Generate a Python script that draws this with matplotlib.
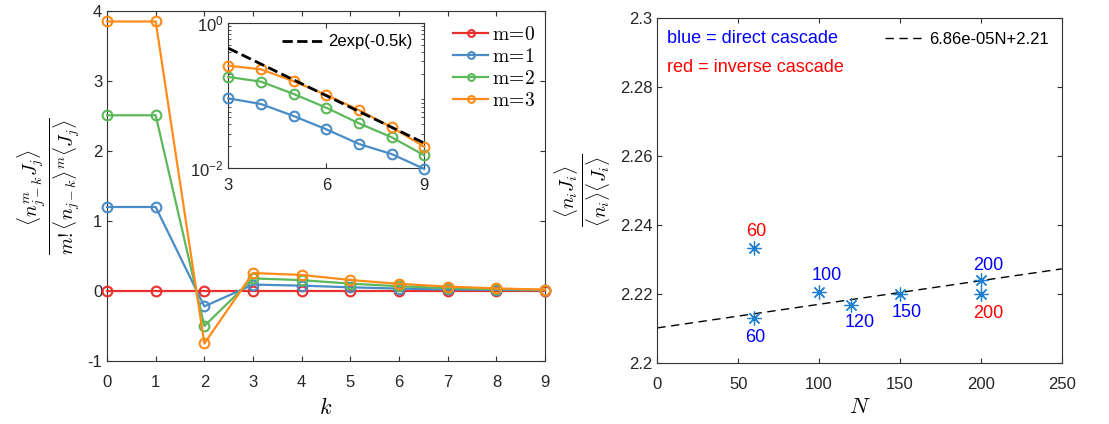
import matplotlib
matplotlib.use('Agg')
import matplotlib.pyplot as plt
import numpy as np
from matplotlib.ticker import FormatStrFormatter, LogLocator, NullFormatter

plt.rcParams['font.family'] = ['Liberation Sans', 'DejaVu Sans']
plt.rcParams['mathtext.fontset'] = 'cm'
plt.rcParams['font.size'] = 12
plt.rcParams['axes.unicode_minus'] = False

# left panel data
k = np.arange(10)
m_vals = [0, 1, 2, 3]
m0 = [0, 0, 0, 0, 0, 0, 0, 0, 0, 0]
m1 = [1.20, 1.20, -0.22, 0.0915, 0.0764, 0.0523, 0.0343, 0.0216, 0.0157, 0.0098]
m2 = [2.51, 2.51, -0.50, 0.180, 0.155, 0.105, 0.068, 0.0415, 0.0267, 0.0151]
m3 = [3.85, 3.85, -0.75, 0.257, 0.229, 0.157, 0.102, 0.063, 0.0366, 0.0199]
colors = ['#e8302f', '#4a8cc6', '#5cb85a', '#ff8c1a']
fit_amp, fit_rate = 2.0, 0.5

# right panel data
N = [60, 60, 100, 120, 150, 200, 200]
ratio = [2.2129, 2.2332, 2.2206, 2.2168, 2.2199, 2.2240, 2.2199]
point_cols = ['blue', 'red', 'blue', 'blue', 'blue', 'blue', 'red']
slope, intercept = 6.86e-05, 2.2101

axcol = '#333333'


def style(ax, pad=10):
    ax.tick_params(direction='in', top=True, right=True, color=axcol, labelcolor='#262626', width=0.8)
    ax.tick_params(axis='x', pad=pad)
    for s in ax.spines.values():
        s.set_color(axcol)
        s.set_linewidth(0.8)


fig = plt.figure(figsize=(11.09, 4.24), dpi=100)

# ---- left panel ----
ax1 = fig.add_axes([0.0965, 0.1486, 0.395, 0.8255])
for y, c, v in zip([m0, m1, m2, m3], colors, m_vals):
    ax1.plot(k, y, '-o', color=c, mfc='none', mew=1.5, ms=7, lw=1.6,
             clip_on=False, zorder=3, label=r'$\mathrm{m}\!=\!%d$' % v)
ax1.set_xlim(0, 9)
ax1.set_ylim(-1, 4)
ax1.set_xticks(k)
ax1.set_yticks(range(-1, 5))
style(ax1)
ax1.set_xlabel(r'$k$', fontsize=16, labelpad=6)
ax1.set_ylabel(r'$\frac{\langle n_{j-k}^m J_j\rangle}{m!\langle n_{j-k}\rangle^m\langle J_j\rangle}$',
               fontsize=20, labelpad=4)
ax1.legend(loc='upper right', frameon=False, fontsize=14, handlelength=1.8,
           handletextpad=0.2, borderaxespad=0.1, labelspacing=0.2,
           bbox_to_anchor=(1.0, 0.985), markerscale=0.7)

# inset
axi = fig.add_axes([0.2059, 0.603, 0.1767, 0.3434])
for y, c in zip([m1, m2, m3], colors[1:]):
    axi.semilogy(k[3:], y[3:], '-o', color=c, mfc='none', mew=1.5, ms=7, lw=1.6,
                 clip_on=False, zorder=3)
kk = k[3:]
axi.semilogy(kk, fit_amp * np.exp(-fit_rate * kk), '--', color='k', lw=2,
             label='2exp(-0.5k)', zorder=4)
axi.set_xlim(3, 9)
axi.set_ylim(1e-2, 1)
axi.set_xticks([3, 6, 9])
axi.set_yticks([1e-2, 1])
axi.set_yticklabels([r'$\mathregular{10^{-2}}$', r'$\mathregular{10^{0}}$'])
axi.yaxis.set_minor_locator(LogLocator(base=10, subs=np.arange(2, 10)))
axi.yaxis.set_minor_formatter(NullFormatter())
style(axi, pad=7)
axi.tick_params(which='minor', direction='in', right=True, color=axcol)
axi.legend(loc='upper right', frameon=False, fontsize=12, handlelength=2.6,
           handletextpad=0.2, borderaxespad=0.3)

# ---- right panel ----
ax2 = fig.add_axes([0.5927, 0.1446, 0.3647, 0.812])
xx = np.array([0, 250])
ax2.plot(xx, slope * xx + intercept, '--', color='k', lw=1,
         label='6.86e-05N+2.21', dashes=(6, 4))
ax2.plot(N, ratio, ls='none', marker=(8, 2, 0), ms=10, mew=0.9, color='#1f7fd0')
offs = [(1, -19), (2, 17), (8, 16), (8, -18), (7, -18), (7, 15), (7, -19)]
for n, r, c, o in zip(N, ratio, point_cols, offs):
    ax2.annotate(str(n), (n, r), xytext=o, textcoords='offset pixels',
                 color=c, ha='center', va='center', fontsize=13)
ax2.set_xlim(0, 250)
ax2.set_ylim(2.2, 2.3)
ax2.set_xticks(range(0, 251, 50))
ax2.set_yticks(np.arange(2.2, 2.3001, 0.02))
ax2.yaxis.set_major_formatter(FormatStrFormatter('%g'))
style(ax2)
ax2.set_xlabel(r'$N$', fontsize=16, labelpad=4)
ax2.set_ylabel(r'$\frac{\langle n_i J_i\rangle}{\langle n_i\rangle\langle J_i\rangle}$',
               fontsize=20, labelpad=4)
ax2.text(0.025, 0.943, 'blue = direct cascade', color='blue', fontsize=13,
         transform=ax2.transAxes, va='center')
ax2.text(0.025, 0.856, 'red = inverse cascade', color='red', fontsize=13,
         transform=ax2.transAxes, va='center')
ax2.legend(loc='upper right', frameon=False, fontsize=12, handlelength=2.4,
           handletextpad=0.2, borderaxespad=0.4)

fig.savefig('out.png', dpi=100)
